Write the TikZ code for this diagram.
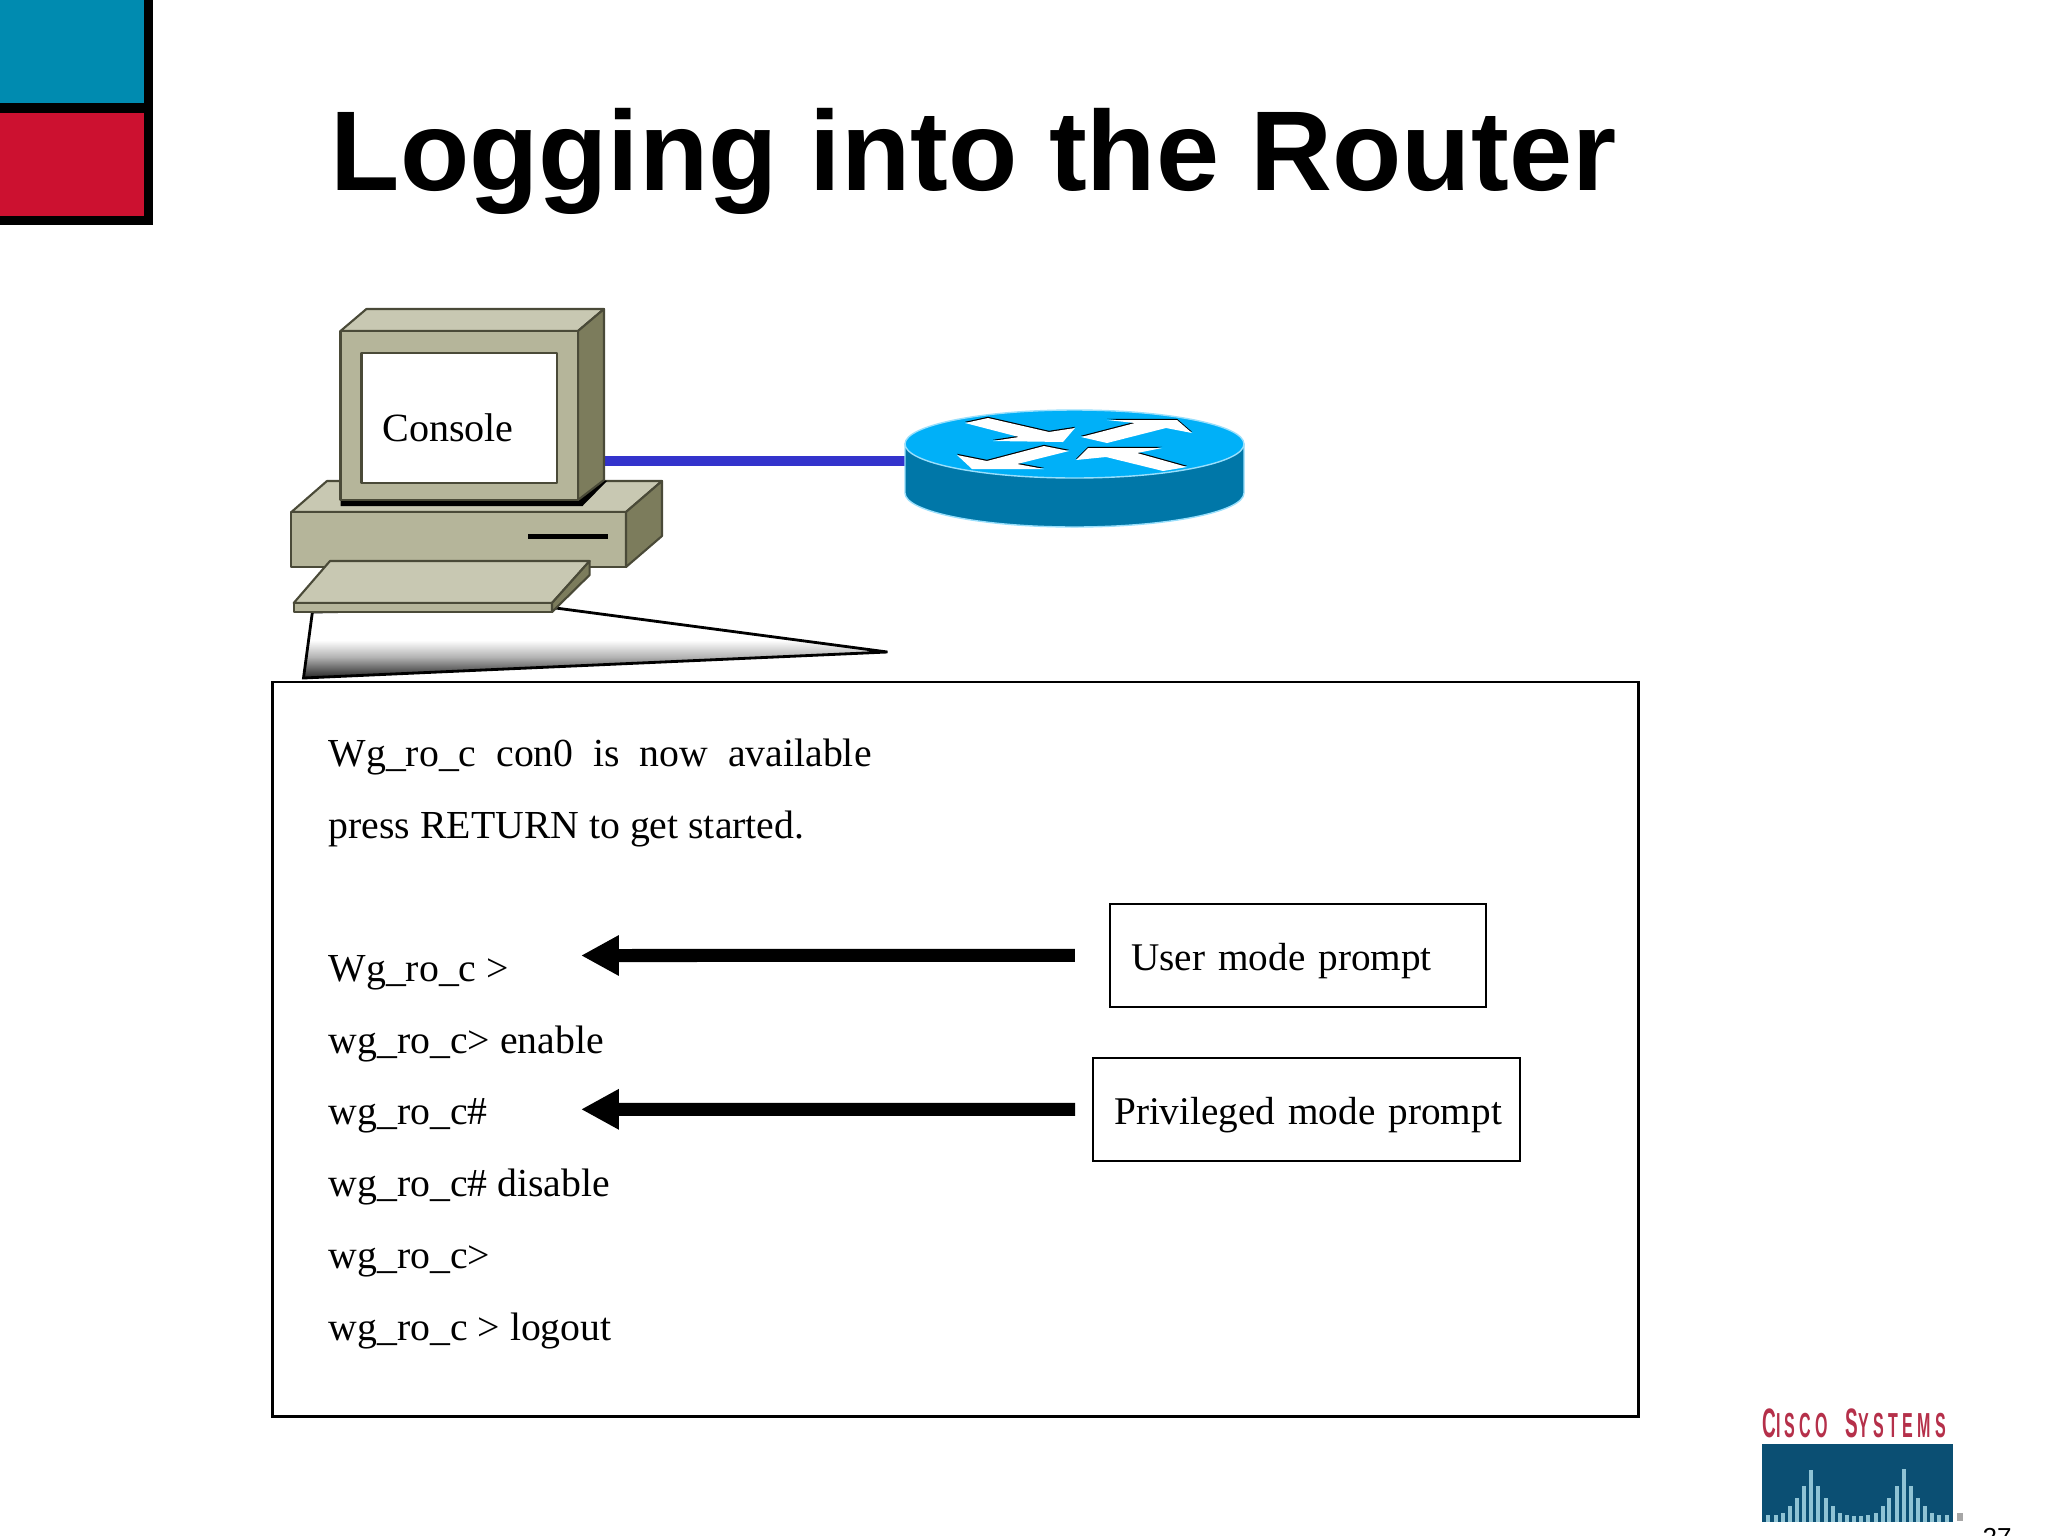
\documentclass[tikz,border=0pt]{standalone}
\usepackage{fontspec}
\setmainfont{Liberation Serif}
\newfontfamily\arialfont{Liberation Sans}
\newfontfamily\logofont[LetterSpace=27]{Liberation Sans}
\usepackage{tikz}
\usetikzlibrary{arrows.meta}
\definecolor{teal1}{HTML}{008BB0}
\definecolor{red1}{HTML}{CC1130}
\definecolor{beige1}{HTML}{B5B59A}
\definecolor{beige2}{HTML}{C8C8B2}
\definecolor{beige3}{HTML}{7C7C5C}
\definecolor{edge1}{HTML}{4A4A38}
\definecolor{cable1}{HTML}{3333CC}
\definecolor{rtrtop}{HTML}{00B0F8}
\definecolor{rtrside}{HTML}{0077A8}
\definecolor{logo1}{HTML}{0B4F73}
\definecolor{logo2}{HTML}{B5304A}
\definecolor{logo3}{HTML}{8FC3D4}
\pgfdeclareverticalshading{cone1}{100bp}{color(0bp)=(black!85); color(25bp)=(black!85); color(40bp)=(black!30); color(52bp)=(white); color(100bp)=(white)}
\begin{document}
\begin{tikzpicture}[x=.01cm,y=-.01cm,
	every node/.style={font=\fontsize{11.3}{13}\selectfont,inner sep=0pt},
	line1/.style={anchor=base west},
	label1/.style={draw,line width=.6pt,anchor=base west,inner xsep=6.1pt,text height=18.8pt,text depth=10.5pt,align=left,font=\fontsize{11.15}{13}\selectfont},
	arrow1/.style={line width=3.7pt,-{Triangle[length=10.8pt,width=10.8pt]}},
	pc1/.style={draw=edge1,line width=.6pt,line join=round}]
	\useasboundingbox (0,0) rectangle (2048,1536);
	\clip (0,0) rectangle (2048,1536);
	\fill[white] (0,0) rectangle (2048,1536);

	\fill[black] (0,0) rectangle (153,225);
	\fill[teal1] (0,0) rectangle (144,103);
	\fill[red1] (0,113) rectangle (144,216);

	\node[anchor=base west,font=\arialfont\bfseries\fontsize{32.26}{36}\selectfont] (title) at (330,190) {Logging into the Router};

	\coordinate (pc) at (604,461);
	\coordinate (rtr) at (910,461);
	\draw[cable1,line width=2.9pt] (pc) -- (rtr);

	\shade[shading=cone1,draw=black,line width=.8pt] (312.4,612) -- (555.7,608) -- (887.4,652) -- (303.5,678) -- cycle;

	\draw[pc1,fill=beige2] (327,481) -- (662,481) -- (626,512) -- (291.4,512) -- cycle;
	\draw[pc1,fill=beige1] (291.4,512) rectangle (626,567);
	\draw[pc1,fill=beige3] (626,512) -- (662,481) -- (662,536) -- (626,567) -- cycle;
	\fill[black] (527.6,534) rectangle (608,539);
	\fill[black] (340.5,500) -- (578,500) -- (604,480) -- (607,481) -- (582.5,506) -- (340.5,506) -- cycle;
	\draw[pc1,fill=beige2] (340.5,331) -- (366.4,309) -- (604,309) -- (578,331) -- cycle;
	\draw[pc1,fill=beige3] (578,331) -- (604,309) -- (604,480) -- (578,500) -- cycle;
	\draw[pc1,fill=beige1] (340.5,331) rectangle (578,500);
	\draw[pc1,fill=white] (361.5,353) rectangle (557,483);
	\draw[pc1,fill=beige2] (330,561) -- (589.6,561) -- (552,603) -- (293.7,603) -- cycle;
	\draw[pc1,fill=beige1] (293.7,603) rectangle (552,612);
	\draw[pc1,fill=beige3] (552,603) -- (589.6,561) -- (589.6,575) -- (552,612) -- cycle;
	\node[anchor=base west,font=\fontsize{11.4}{13}\selectfont] (console) at (381.6,441.5) {Console};

	\draw[rtrtop!40,fill=rtrside,line width=.4pt] (905,444) -- (905,493) arc[start angle=180,end angle=0,x radius=169.5,y radius=34] -- (1244,444) -- cycle;
	\draw[rtrtop!40,fill=rtrtop,line width=.4pt] (1074.5,444) ellipse[x radius=169.5,y radius=34];
	\foreach \k/\s in {black/-1.2,white/0}{
		\begin{scope}[shift={(0,\s)}]
			\fill[\k] (965,423) -- (988,418) -- (1049,432) -- (1075,428) -- (1063,442) -- (993,441) -- (1019,437) -- cycle;
			\fill[\k] (1081,437) -- (1135,423) -- (1107,420) -- (1177,420) -- (1192,433) -- (1166,428) -- (1107,443) -- cycle;
			\fill[\k] (957,455) -- (987,461) -- (1044,446) -- (1069,451) -- (1017,464) -- (1044,469) -- (972,469) -- cycle;
			\fill[\k] (1076,460) -- (1088,448) -- (1162,448) -- (1137,453) -- (1187,467) -- (1163,471) -- (1106,457) -- cycle;
		\end{scope}
	}

	\draw[line width=.6pt] (272.5,682) rectangle (1638.5,1416.5);

	\node[line1] (l1) at (328,766) {Wg\_ro\_c\hspace{.5em}con0\hspace{.5em}is\hspace{.5em}now\hspace{.5em}available};
	\node[line1] (l2) at (328,838) {press RETURN to get started.};
	\node[line1] (l3) at (328,981) {Wg\_ro\_c >};
	\node[line1] (l4) at (328,1053) {wg\_ro\_c> enable};
	\node[line1] (l5) at (328,1124.5) {wg\_ro\_c\#};
	\node[line1] (l6) at (328,1196) {wg\_ro\_c\# disable};
	\node[line1] (l7) at (328,1268) {wg\_ro\_c>};
	\node[line1] (l8) at (328,1340) {wg\_ro\_c > logout};

	\node[label1,text width=94.8pt] (user) at (1108.7,970) {\mbox{User mode prompt}};
	\node[label1,text width=109.4pt] (priv) at (1091.7,1124) {\mbox{Privileged mode prompt}};
	\coordinate (p1) at (581,955.5);
	\coordinate (p2) at (581,1109.3);
	\draw[arrow1,shorten <=9.6pt] (user.west) -- (p1);
	\draw[arrow1,shorten <=4.7pt] (priv.west) -- (p2);

	\node[anchor=base west,font=\logofont\bfseries\fontsize{7.6}{10}\selectfont,text=logo2,xscale=.6,yscale=1.3] (cisco) at (1762,1437) {{\fontsize{9}{10}\selectfont C}ISCO\ \ {\fontsize{9}{10}\selectfont S}YSTEMS};
	\fill[logo1] (1762,1444) rectangle (1953,1522);
	\foreach \x/\t in {145/375,168/375,190/368,210/348,232/325,253/288,273/240,295/288,317/325,338/348,360/368,380/375,402/378,424/378,445/375,467/368,488/348,508/325,530/288,551/238,572/288,594/325,616/348,636/368,658/375,680/375}
		\fill[logo3] ({1720+\x/3-2},{1390+\t/3}) rectangle ({1720+\x/3+2},1522);
	\fill[gray!70] (1957,1513) rectangle (1963,1521);
	\node[anchor=base west,font=\arialfont\fontsize{7.4}{9}\selectfont] (pnum) at (1982,1546) {27};
\end{tikzpicture}
\end{document}
